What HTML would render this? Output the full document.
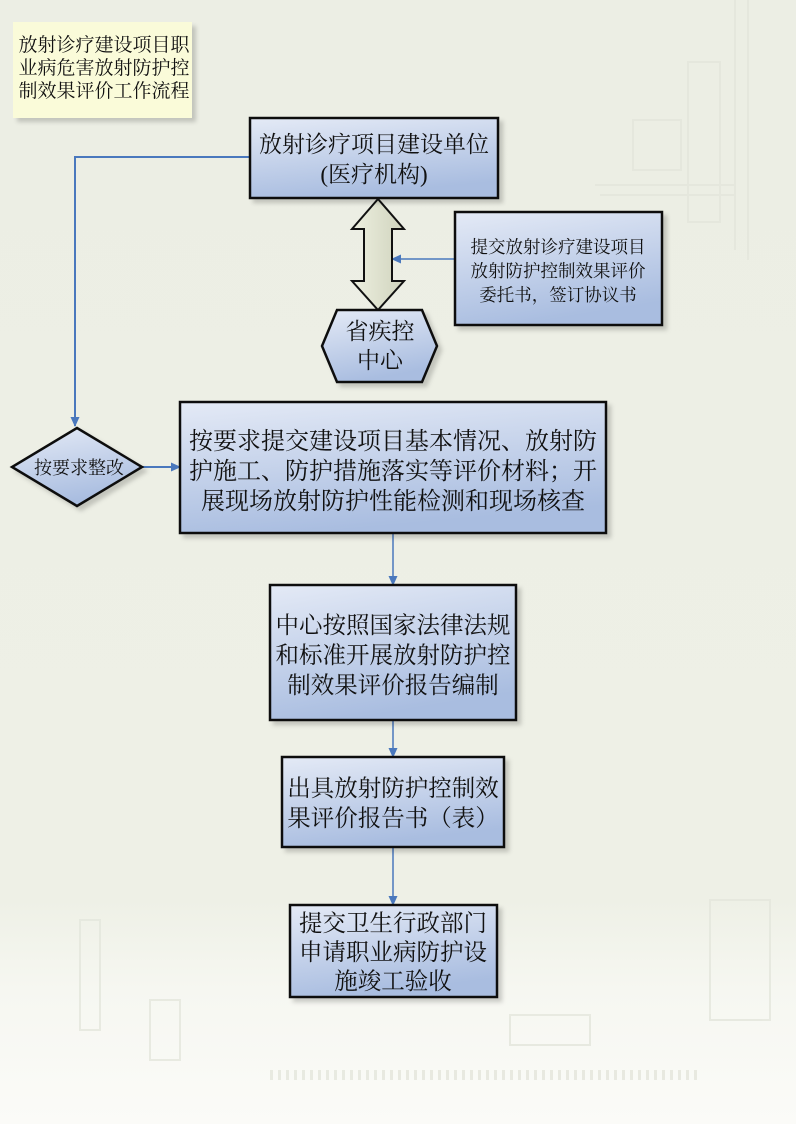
<!DOCTYPE html>
<html><head><meta charset="utf-8"><style>
html,body{margin:0;padding:0;width:796px;height:1124px;overflow:hidden;background:#eef0e6}
svg{display:block}
text{font-family:"Liberation Serif","Noto Serif CJK SC",serif;fill:#111;text-anchor:middle}
</style></head><body>
<svg width="796" height="1124" viewBox="0 0 796 1124" xmlns="http://www.w3.org/2000/svg">
<defs>
<linearGradient id="bg" x1="0" y1="0" x2="0" y2="1">
<stop offset="0" stop-color="#eceee4"/><stop offset="0.8" stop-color="#eef0e6"/><stop offset="0.88" stop-color="#f6f7f1"/><stop offset="1" stop-color="#fbfbf8"/>
</linearGradient>
<linearGradient id="bx" x1="0" y1="0" x2="0.3" y2="1">
<stop offset="0" stop-color="#e4eaf6"/><stop offset="1" stop-color="#a9bde0"/>
</linearGradient>
<linearGradient id="ar" x1="0" y1="0" x2="1" y2="0">
<stop offset="0" stop-color="#eef0e0"/><stop offset="1" stop-color="#cfd3bd"/>
</linearGradient>
<marker id="m" markerWidth="10" markerHeight="10" refX="9" refY="5" orient="auto" markerUnits="userSpaceOnUse">
<path d="M0,0.5 L10,5 L0,9.5 Z" fill="#4a78bd"/>
</marker>
<filter id="sh" x="-10%" y="-10%" width="130%" height="130%"><feDropShadow dx="4" dy="4" stdDeviation="2" flood-color="#000" flood-opacity="0.18"/></filter>
</defs>
<rect width="796" height="1124" fill="url(#bg)"/>
<g stroke="#e4e6dc" fill="none" stroke-width="2" opacity="0.8">
<rect x="688" y="62" width="32" height="160"/>
<rect x="633" y="120" width="48" height="50"/>
<path d="M735 0 V250 M748 0 V260 M595 185 H735 M600 195 H735"/>
<rect x="710" y="900" width="60" height="120"/>
<rect x="510" y="1015" width="80" height="30"/>
<path d="M270 1075 H700" stroke-dasharray="3 5" stroke-width="10"/>
<rect x="80" y="920" width="20" height="110"/>
<rect x="150" y="1000" width="30" height="60"/>
</g>
<rect x="13" y="22" width="179" height="96" fill="#fafbd9" filter="url(#sh)"/>
<text x="104" y="51" font-size="19">放射诊疗建设项目职</text>
<text x="104" y="74" font-size="19">业病危害放射防护控</text>
<text x="104" y="97" font-size="19">制效果评价工作流程</text>
<g stroke="#4a78bd" stroke-width="2" fill="none">
<path d="M250 157 H75 V426" marker-end="url(#m)"/>
<path d="M142 467 H180" marker-end="url(#m)"/>
<path d="M455 259 H392" marker-end="url(#m)" stroke-width="1.5"/>
<path d="M393 534 V585" marker-end="url(#m)" stroke-width="1.5"/>
<path d="M393 721 V757" marker-end="url(#m)" stroke-width="1.5"/>
<path d="M393 848 V905" marker-end="url(#m)" stroke-width="1.5"/>
</g>
<path d="M378 199 L404 229 L392 229 L392 281 L404 281 L378 310 L352 281 L364 281 L364 229 L352 229 Z" fill="url(#ar)" stroke="#111" stroke-width="2"/>
<g stroke="#111" stroke-width="2.5" fill="url(#bx)" filter="url(#sh)">
<rect x="250" y="118" width="248" height="80"/>
<rect x="455" y="212" width="207" height="113"/>
<polygon points="337,310 422,310 437,346 422,382 337,382 322,346"/>
<polygon points="77,428 142,467 77,506 12,467"/>
<rect x="180" y="402" width="426" height="131"/>
<rect x="270" y="585" width="246" height="135"/>
<rect x="282" y="757" width="222" height="90"/>
<rect x="290" y="905" width="207" height="92"/>
</g>
<text x="374" y="152" font-size="23">放射诊疗项目建设单位</text>
<text x="374" y="182" font-size="23">(医疗机构)</text>
<text x="558" y="253" font-size="17.5">提交放射诊疗建设项目</text>
<text x="558" y="277" font-size="17.5">放射防护控制效果评价</text>
<text x="558" y="301" font-size="17.5">委托书，签订协议书</text>
<text x="380" y="339" font-size="23">省疾控</text>
<text x="380" y="368" font-size="23">中心</text>
<text x="79" y="474" font-size="18">按要求整改</text>
<text x="393" y="449" font-size="24">按要求提交建设项目基本情况、放射防</text>
<text x="393" y="479" font-size="24">护施工、防护措施落实等评价材料；开</text>
<text x="393" y="509" font-size="24">展现场放射防护性能检测和现场核查</text>
<text x="393" y="633" font-size="23.5">中心按照国家法律法规</text>
<text x="393" y="663" font-size="23.5">和标准开展放射防护控</text>
<text x="393" y="693" font-size="23.5">制效果评价报告编制</text>
<text x="393" y="796" font-size="23.5">出具放射防护控制效</text>
<text x="393" y="826" font-size="23.5">果评价报告书（表）</text>
<text x="393" y="931" font-size="23.5">提交卫生行政部门</text>
<text x="393" y="960" font-size="23.5">申请职业病防护设</text>
<text x="393" y="989" font-size="23.5">施竣工验收</text>
</svg>
</body></html>
